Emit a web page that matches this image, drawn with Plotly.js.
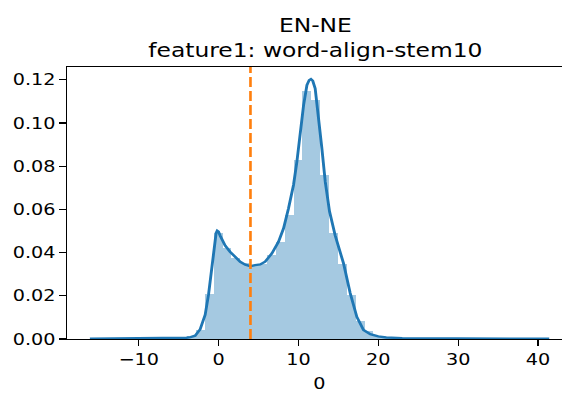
<!DOCTYPE html>
<html>
<head>
<meta charset="utf-8">
<script src="https://cdn.plot.ly/plotly-3.0.1.min.js"></script>
<style>
  html, body { margin: 0; padding: 0; overflow: hidden; background: #fff; }
  #chart { width: 477px; height: 394px; transform: scaleX(1.2); transform-origin: 0 0; }
</style>
</head>
<body>
<div id="chart"></div>
<script>
// Histogram (density) bins
const binCenters = [-14.497, -13.386, -12.275, -11.164, -10.053, -8.942, -7.831, -6.720, -5.609, -4.498,
  -3.387, -2.276, -1.165, -0.054, 1.058, 2.169, 3.280, 4.391, 5.502, 6.613,
  7.724, 8.835, 9.946, 11.057, 12.168, 13.279, 14.390, 15.501, 16.612, 17.723,
  18.834, 19.945, 21.056, 22.167, 23.278, 24.389, 25.500, 26.611, 27.722, 28.833,
  29.944, 31.055, 32.166, 33.277, 34.388, 35.499, 36.610, 37.721, 38.832, 39.943];
const binDensity = [0.0001, 0.0001, 0.0001, 0.0001, 0.0002, 0.0002, 0.0002, 0.0002, 0.0003, 0.0005,
  0.0012, 0.0040, 0.0210, 0.0490, 0.0420, 0.0375, 0.0350, 0.0336, 0.0345, 0.0390,
  0.0450, 0.0574, 0.0829, 0.1150, 0.1106, 0.0759, 0.0490, 0.0349, 0.0205, 0.0082,
  0.0035, 0.0012, 0.0006, 0.0004, 0.0003, 0.0003, 0.0002, 0.0002, 0.0002, 0.0001,
  0.0001, 0.0001, 0.0001, 0.0001, 0.0001, 0.0001, 0.0001, 0.0000, 0.0000, 0.0001];
const binWidth = 1.111;

// KDE curve
const kdeX = [-16.1, -13, -10, -7, -5, -4, -3.5, -2.92, -2.3, -1.67, -1.25, -0.83, -0.54, -0.3, -0.16, 0.0,
  0.21, 0.5, 0.84, 1.47, 2.09, 2.72, 3.35, 3.98, 4.59, 5.22, 5.84, 6.68, 7.51, 8.14, 8.76, 9.39,
  9.81, 10.23, 10.65, 11.07, 11.35, 11.57, 11.8, 12.1, 12.52, 12.94, 13.36, 13.9, 14.6, 15.65,
  16.48, 17.32, 18.15, 19.0, 20, 21, 23, 26, 30, 35, 41.4];
const kdeY = [0.0001, 0.0002, 0.0002, 0.0003, 0.0004, 0.0006, 0.0009, 0.0015, 0.0045, 0.0112, 0.0205, 0.0344, 0.0444, 0.0490, 0.0501, 0.0497,
  0.0478, 0.0452, 0.0432, 0.0403, 0.0378, 0.0357, 0.0344, 0.0337, 0.0342, 0.0345, 0.0358, 0.0396, 0.0450, 0.0512, 0.0604, 0.0713,
  0.0820, 0.0959, 0.1083, 0.1175, 0.1198, 0.1203, 0.1195, 0.1160, 0.1037, 0.0882, 0.0728, 0.0590, 0.0480, 0.0350,
  0.0213, 0.0102, 0.0042, 0.0022, 0.0012, 0.0007, 0.0004, 0.0003, 0.0002, 0.0001, 0.0001];

// Threshold marker
const thresholdX = 4.0;

const xTicks = [-10, 0, 10, 20, 30, 40];
const yTicks = [0.00, 0.02, 0.04, 0.06, 0.08, 0.10, 0.12];
const titleText = 'EN-NE<br>feature1: word-align-stem10';
const xLabel = '0';

const FONT = 'DejaVu Sans, Arial, sans-serif';

const traces = [
  {
    type: 'bar',
    x: binCenters,
    y: binDensity,
    width: binWidth,
    marker: { color: 'rgba(31,119,180,0.4)', line: { width: 0 } },
    hoverinfo: 'skip'
  },
  {
    type: 'scatter',
    mode: 'lines',
    x: kdeX,
    y: kdeY,
    line: { color: '#1f77b4', width: 2.4 },
    hoverinfo: 'skip'
  }
];

const layout = {
  width: 477,
  height: 394,
  margin: { l: 56, r: 1, t: 67, b: 55, pad: 0 },
  paper_bgcolor: '#ffffff',
  plot_bgcolor: '#ffffff',
  showlegend: false,
  bargap: 0,
  font: { family: FONT, size: 16, color: '#000' },
  title: {
    text: titleText,
    font: { family: FONT, size: 19.5, color: '#000' },
    x: 0.551, xref: 'container', xanchor: 'center',
    y: 1 - 32 / 394, yref: 'container', yanchor: 'middle'
  },
  xaxis: {
    range: [-18.94, 44.15],
    tickmode: 'array',
    tickvals: xTicks,
    ticktext: xTicks.map(v => v < 0 ? '\u2212' + Math.abs(v) : String(v)),
    ticks: 'outside', ticklen: 6, tickwidth: 1.1, tickcolor: '#000',
    showline: true, linecolor: '#000', linewidth: 1.3, mirror: true,
    showgrid: false, zeroline: false,
    tickfont: { family: FONT, size: 16, color: '#000' }
  },
  yaxis: {
    range: [0, 0.1259],
    tickmode: 'array',
    tickvals: yTicks,
    ticktext: yTicks.map(v => v.toFixed(2)),
    ticks: 'outside', ticklen: 5.5, tickwidth: 1.2, tickcolor: '#000',
    showline: true, linecolor: '#000', linewidth: 1.1,
    showgrid: false, zeroline: false,
    tickfont: { family: FONT, size: 16, color: '#000' }
  },
  annotations: [
    {
      text: xLabel, xref: 'paper', yref: 'paper', x: 0.5, y: 0,
      xanchor: 'center', yanchor: 'middle', yshift: -44, showarrow: false,
      font: { family: FONT, size: 16, color: '#000' }
    }
  ],
  shapes: [
    {
      type: 'line', xref: 'x', yref: 'paper',
      x0: thresholdX, x1: thresholdX, y0: 0, y1: 1,
      line: { color: '#ff7f0e', width: 2.2, dash: '10px,4px' }
    }
  ]
};

Plotly.newPlot('chart', traces, layout, { displayModeBar: false, staticPlot: true });
</script>
</body>
</html>
